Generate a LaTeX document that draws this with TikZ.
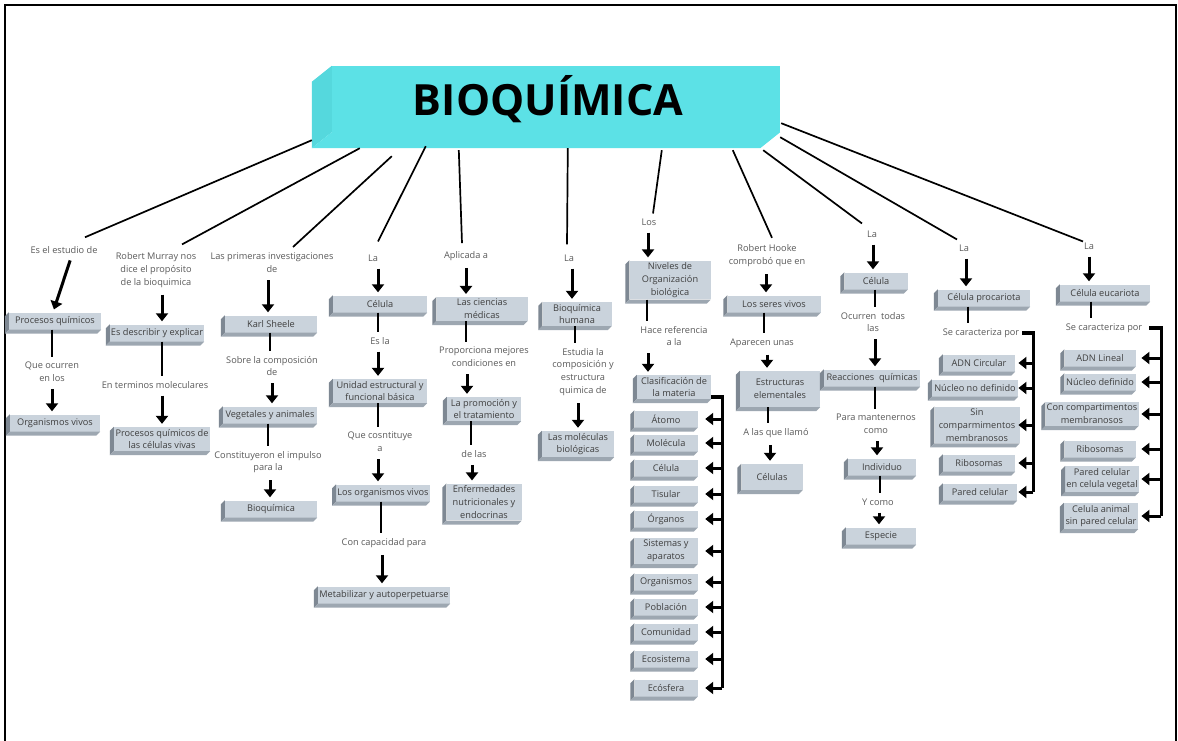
\documentclass[tikz,border=0pt]{standalone}
\usepackage{fontspec}
\setmainfont{Open Sans}
\usetikzlibrary{arrows.meta, calc}

\definecolor{cajacara}{HTML}{CAD3DC}
\definecolor{cajaizq}{HTML}{7E8893}
\definecolor{cajainf}{HTML}{9DA7B1}
\definecolor{cajatexto}{HTML}{3F3F3F}
\definecolor{etiqtexto}{HTML}{5A5A5A}
\definecolor{cian}{HTML}{5CE1E6}
\definecolor{cianlado}{HTML}{55D8DD}

% caja con relieve: [opciones]{nombre}{posicion}{texto}
\newcommand{\caja}[4][]{%
  \node[caja,#1] (#2) at (#3) {#4};
  \fill[cajaizq] (#2.north west) -- ++(-4,4) -- ([shift={(-4,4)}]#2.south west) -- (#2.south west) -- cycle;
  \fill[cajainf] (#2.south west) -- ++(-4,4) -- ([shift={(-4,4)}]#2.south east) -- (#2.south east) -- cycle;
}

\begin{document}
\begin{tikzpicture}[x=1pt, y=-1pt,
  caja/.style={fill=cajacara, text=cajatexto, font=\fontsize{9.2}{12.8}\selectfont, align=center, inner xsep=1pt, inner ysep=2pt, minimum height=17pt},
  etiq/.style={text=etiqtexto, font=\fontsize{9.2}{12.8}\selectfont, align=center, inner sep=1pt},
  titulo/.style={fill=cian, minimum width=448pt, minimum height=66pt, font=\fontsize{43}{43}\selectfont\bfseries},
  linea/.style={line width=1.7pt},
  barra/.style={line width=2.8pt, shorten >=4pt},
  flecha/.style={line width=3pt, -{Triangle[width=12pt,length=8pt]}, shorten <=6pt, shorten >=3pt},
  flechab/.style={line width=3pt, -{Triangle[width=12pt,length=8pt]}},
  corchete/.style={line width=3.2pt}]

\fill[white] (0,0) rectangle (1178,740);
\useasboundingbox (0,0) rectangle (1178,740);
\draw[line width=2pt] (5,750) -- (5,5) -- (1176,5) -- (1176,750);

% titulo
\node[titulo] (tit) at (556,99) {BIOQUÍMICA\kern16pt};
\fill[cianlado] (tit.north west) -- ++(-20,16) -- ([shift={(-20,16)}]tit.south west) -- (tit.south west) -- cycle;
\fill[cian] (tit.south west) -- ++(-20,16) -- ([shift={(-20,16)}]tit.south east) -- (tit.south east) -- cycle;

% Es el estudio de
\node[etiq] (l1a) at (64,250) {Es el estudio de};
\caja[minimum width=92pt]{pq}{55,321}{Procesos químicos}
\node[etiq] (l1b) at (52,372) {Que ocurren\\en los};
\caja[minimum width=90pt]{ov}{55,423}{Organismos vivos}
\draw[flecha] ([xshift=8pt]l1a.south) -- ([xshift=-2pt]pq.north);
\draw[barra] ([xshift=-3pt]pq.south) -- ([xshift=-3pt]pq.south |- l1b.north);
\draw[flecha] (l1b.south) -- (l1b.south |- ov.north);

% Robert Murray
\node[etiq] (l2a) at (156,270) {Robert Murray nos\\dice el propósito\\de la bioquimica};
\caja[minimum width=93pt]{ed}{157,333}{Es describir y explicar}
\node[etiq] (l2b) at (155,385) {En terminos moleculares};
\caja[minimum width=96pt]{pc}{162,439}{Procesos químicos de\\las células vivas}
\draw[flecha] ([xshift=6pt]l2a.south) -- ([xshift=6pt]l2a.south |- ed.north);
\draw[barra] ([xshift=5pt]ed.south) -- ([xshift=5pt]ed.south |- l2b.north);
\draw[flecha] ([xshift=7pt]l2b.south) -- ([xshift=7pt]l2b.south |- pc.north);

% Karl Sheele
\node[etiq] (l3a) at (272,263) {Las primeras investigaciones\\de};
\caja[minimum width=92pt]{ks}{271,324}{Karl Sheele}
\node[etiq] (l3b) at (272,366) {Sobre la composición\\de};
\caja[minimum width=94pt]{va}{270,415}{Vegetales y animales}
\node[etiq] (l3c) at (268,462) {Constituyeron el impulso\\para la};
\caja[minimum width=92pt]{bq}{271,509}{Bioquímica}
\draw[flecha] ([xshift=-4pt]l3a.south) -- ([xshift=-4pt]l3a.south |- ks.north);
\draw[barra] ([xshift=-1pt]ks.south) -- ([xshift=-1pt]ks.south |- l3b.north);
\draw[flecha] (l3b.south) -- (l3b.south |- va.north);
\draw[barra] ([xshift=-2pt]va.south) -- ([xshift=-2pt]va.south |- l3c.north);
\draw[flecha] ([xshift=2pt]l3c.south) -- ([xshift=2pt]l3c.south |- bq.north);

% Celula
\node[etiq] (l4a) at (373,258) {La};
\caja[minimum width=94pt]{ce}{380,304}{Célula}
\node[etiq] (l4b) at (380,341) {Es la};
\caja[minimum width=94pt]{ue}{380,391}{Unidad estructural  y\\funcional básica}
\node[etiq] (l4c) at (380,442) {Que cosntituye\\a};
\caja[minimum width=93pt]{lo}{383,493}{Los organismos vivos}
\node[etiq] (l4d) at (384,543) {Con capacidad para};
\caja[minimum width=132pt]{me}{384,595}{Metabilizar y autoperpetuarse}
\draw[flecha] ([xshift=5pt]l4a.south) -- ([xshift=5pt]l4a.south |- ce.north);
\draw[barra] ([xshift=-2pt]ce.south) -- ([xshift=-2pt]ce.south |- l4b.north);
\draw[flecha] ([xshift=-2pt]l4b.south) -- ([xshift=-2pt]l4b.south |- ue.north);
\draw[barra] ([xshift=-2pt]ue.south) -- ([xshift=-2pt]ue.south |- l4c.north);
\draw[flecha] ([xshift=-2pt]l4c.south) -- ([xshift=-2pt]l4c.south |- lo.north);
\draw[barra, line width=1.6pt] ([xshift=-2pt]lo.south) -- ([xshift=-2pt]lo.south |- l4d.north);
\draw[flecha] ([xshift=-2pt]l4d.south) -- ([xshift=-2pt]l4d.south |- me.north);

% Aplicada a
\node[etiq] (l5a) at (466,256) {Aplicada a};
\caja[minimum width=91pt]{cm}{482,309}{Las ciencias\\médicas}
\node[etiq] (l5b) at (484,357) {Proporciona mejores\\condiciones en};
\caja[minimum width=74pt]{pt}{484,409}{La promoción y\\el tratamiento}
\node[etiq] (l5c) at (474,454) {de las};
\caja[minimum width=75pt]{en}{484,502}{Enfermedades\\nutricionales y\\endocrinas}
\draw[flecha] (l5a.south) -- (l5a.south |- cm.north);
\draw[barra] ([xshift=-16pt]cm.south) -- ([xshift=-16pt]cm.south |- l5b.north);
\draw[flecha] ([xshift=-17pt]l5b.south) -- ([xshift=-17pt]l5b.south |- pt.north);
\draw[barra] ([xshift=-13pt]pt.south) -- ([xshift=-13pt]pt.south |- l5c.north);
\draw[flecha] ([xshift=-2pt]l5c.south) -- ([xshift=-2pt]l5c.south |- en.north);

% Bioquimica humana
\node[etiq] (l6a) at (569,258) {La};
\caja[minimum width=69pt]{bh}{577,314}{Bioquímica\\humana}
\node[etiq] (l6b) at (583,372) {Estudia la\\composición y\\estructura\\quimica de};
\caja[minimum width=72pt]{lm}{578,444}{Las moléculas\\biológicas}
\draw[flecha] ([xshift=3pt]l6a.south) -- ([xshift=3pt]l6a.south |- bh.north);
\draw[barra] ([xshift=-2pt]bh.south) -- ([xshift=-2pt]bh.south |- l6b.north);
\draw[flecha] ([xshift=-5pt]l6b.south) -- ([xshift=-5pt]l6b.south |- lm.north);

% Niveles de organizacion
\node[etiq] (l7a) at (649,222) {Los};
\caja[minimum width=81pt]{ni}{670,280}{Niveles de\\Organización\\biológica}
\node[etiq] (l7b) at (674,336) {Hace referencia\\a la};
\caja[minimum width=74pt]{cl}{674,387}{Clasificación de\\la materia}
\draw[flecha] ([xshift=-1pt]l7a.south) -- ([xshift=-1pt]l7a.south |- ni.north);
\draw[barra] ([xshift=-23pt]ni.south) -- ([xshift=-23pt]ni.south |- l7b.north);
\draw[flecha] ([xshift=-26pt]l7b.south) -- ([xshift=-26pt]l7b.south |- cl.north);
\foreach \nom/\yy/\txt in {at/419/Átomo, mo/443/Molécula, cel/468/Célula, ti/494/Tisular,
    org/519/Órganos, sis/551/{Sistemas y\\aparatos}, orgs/582/Organismos, po/607/Población,
    co/632/Comunidad, eco/659/Ecosistema, ecs/688/Ecósfera}
  {\caja[minimum width=63pt]{\nom}{666,\yy}{\txt}}
\draw[corchete] ([yshift=-10pt]cl.east) -- ++(11,0) coordinate (b7) -- (b7 |- ecs.east);
\foreach \nom in {at,mo,cel,ti,org,sis,orgs,po,co,eco,ecs}
  \draw[flechab] (b7 |- \nom.east) -- ++(-17,0);

% Robert Hooke
\node[etiq] (l8a) at (767,256) {Robert Hooke\\comprobó que en};
\caja[minimum width=93pt]{sv}{774,304}{Los seres vivos}
\node[etiq] (l8b) at (762,343) {Aparecen unas};
\caja[minimum width=80pt, minimum height=36pt]{ee}{780,389}{Estructuras\\elementales}
\node[etiq] (l8c) at (776,433) {A las que llamó};
\caja[minimum width=61pt, minimum height=26pt]{cs}{772,477}{Células}
\draw[flecha] ([xshift=-1pt]l8a.south) -- ([xshift=-1pt]l8a.south |- sv.north);
\draw[barra] ([xshift=-10pt]sv.south) -- ([xshift=-10pt]sv.south |- l8b.north);
\draw[flecha] ([xshift=5pt]l8b.south) -- ([xshift=5pt]l8b.south |- ee.north);
\draw[barra] ([xshift=-12pt]ee.south) -- ([xshift=-12pt]ee.south |- l8c.north);
\draw[flecha] ([xshift=-6pt]l8c.south) -- ([xshift=-6pt]l8c.south |- cs.north);

% Celula y reacciones
\node[etiq] (l9a) at (872,234) {La};
\caja[minimum width=63pt]{c9}{876,281}{Célula}
\node[etiq] (l9b) at (873,322) {Ocurren\ \ todas\\las};
\caja[minimum width=96pt]{rq}{872,378}{Reacciones\ \ químicas}
\node[etiq] (l9c) at (876,424) {Para mantenernos\\como};
\caja[minimum width=68pt]{in}{882,467}{Individuo}
\node[etiq] (l9d) at (878,502) {Y como};
\caja[minimum width=70pt]{es}{881,536}{Especie}
\draw[flecha] ([xshift=1pt]l9a.south) -- ([xshift=1pt]l9a.south |- c9.north);
\draw[barra] ([xshift=-1pt]c9.south) -- ([xshift=-1pt]c9.south |- l9b.north);
\draw[flecha] ([xshift=2pt]l9b.south) -- ([xshift=2pt]l9b.south |- rq.north);
\draw[barra] ([xshift=3pt]rq.south) -- ([xshift=3pt]rq.south |- l9c.north);
\draw[flecha] ([xshift=1pt]l9c.south) -- ([xshift=1pt]l9c.south |- in.north);
\draw[barra] ([xshift=-2pt]in.south) -- ([xshift=-2pt]in.south |- l9d.north);
\draw[flecha] ([xshift=1pt]l9d.south) -- ([xshift=1pt]l9d.south |- es.north);

% Celula procariota
\node[etiq] (l10a) at (964,248) {La};
\caja[minimum width=92pt]{cp}{984,298}{Célula procariota}
\node[etiq] (l10b) at (981,333) {Se caracteriza por};
\caja[minimum width=72pt]{p1}{979,363}{ADN Circular}
\caja[minimum width=86pt]{p2}{975,388}{Núcleo no definido}
\caja[minimum width=85pt]{p3}{977,425}{Sin\\comparmimentos\\membranosos}
\caja[minimum width=72pt]{p4}{979,463}{Ribosomas}
\caja[minimum width=74pt]{p5}{980,492}{Pared celular}
\draw[flecha] ([xshift=2pt]l10a.south) -- ([xshift=2pt]l10a.south |- cp.north);
\draw[barra] ([xshift=-16pt]cp.south) -- ([xshift=-16pt]cp.south |- l10b.north);
\draw[corchete] ([xshift=2pt]l10b.east) -- ++(11,0) coordinate (b10) -- (b10 |- p5.east);
\foreach \nom in {p1,p2,p3,p4,p5}
  \draw[flechab] (b10 |- \nom.east) -- ++(-15,0);

% Celula eucariota
\node[etiq] (l11a) at (1089,246) {La};
\caja[minimum width=90pt]{ce2}{1105,293}{Célula eucariota}
\node[etiq] (l11b) at (1104,328) {Se caracteriza por};
\caja[minimum width=71pt]{e1}{1100,358}{ADN Lineal}
\caja[minimum width=71pt]{e2}{1100,382}{Núcleo definido}
\caja[minimum width=93pt]{e3}{1092,414}{Con compartimentos\\membranosos}
\caja[minimum width=71pt]{e4}{1100,449}{Ribosomas}
\caja[minimum width=72pt]{e5}{1102,479}{Pared celular\\en celula vegetal}
\caja[minimum width=74pt]{e6}{1101,516}{Celula animal\\sin pared celular}
\draw[flecha] (l11a.south) -- (l11a.south |- ce2.north);
\draw[barra] ([xshift=-14pt]ce2.south) -- ([xshift=-14pt]ce2.south |- l11b.north);
\draw[corchete] ([xshift=6pt]l11b.east) -- ++(12,0) coordinate (b11) -- (b11 |- e6.east);
\foreach \nom in {e1,e2,e3,e4,e5,e6}
  \draw[flechab] (b11 |- \nom.east) -- ++(-20,0);

% lineas desde el titulo
\draw[linea] ($(tit.south west)+(-20,8)$) -- ($(l1a.north)+(21,-8)$);
\draw[linea] ($(tit.south west)+(28,16)$) -- ($(l2a.north)+(26,-7)$);
\draw[linea] ($(tit.south west)+(60,24)$) -- ($(l3a.north)+(21,-5)$);
\draw[linea] ($(tit.south west)+(94,14)$) -- ($(l4a.north)+(5,-12)$);
\draw[linea] ($(tit.south west)+(127,18)$) -- ($(l5a.north)+(-4,-7)$);
\draw[linea] ($(tit.south west)+(236,16)$) -- ($(l6a.north)+(-2,-9)$);
\draw[linea] ($(tit.south west)+(330,18)$) -- ($(l7a.north)+(4,-4)$);
\draw[linea] ($(tit.south west)+(401,18)$) -- ($(l8a.north)+(5,-6)$);
\draw[linea] ($(tit.south east)+(-17,18)$) -- ($(l9a.north)+(-10,-6)$);
\draw[linea] ($(tit.south east)+(0,5)$) -- ($(l10a.north)+(-7,-4)$);
\draw[linea] ($(tit.south east)+(1,-9)$) -- ($(l11a.north)+(-6,0)$);
\end{tikzpicture}
\end{document}
